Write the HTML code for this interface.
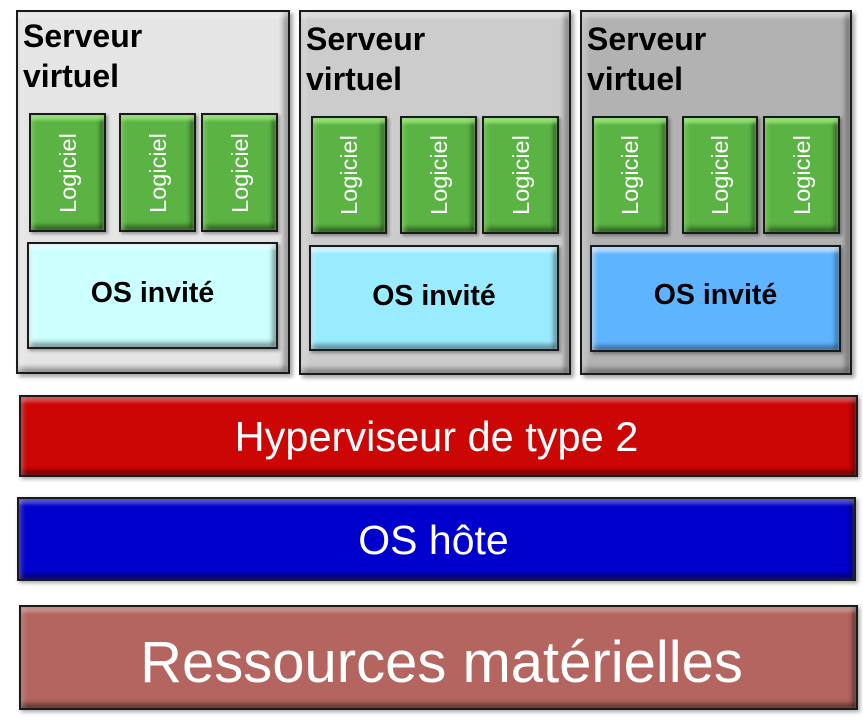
<!DOCTYPE html>
<html><head><meta charset="utf-8"><style>
html,body{margin:0;padding:0;background:#fff;}
body{width:863px;height:721px;position:relative;overflow:hidden;font-family:"Liberation Sans",Arial,sans-serif;}
.b{position:absolute;box-sizing:border-box;border:2px solid #1a1a1a;}
.srv{box-shadow:3px 3px 4px rgba(0,0,0,.35), inset 0 5px 4px rgba(255,255,255,.45), inset 5px 0 4px rgba(255,255,255,.25), inset -5px 0 5px rgba(0,0,0,.3), inset 0 -5px 5px rgba(0,0,0,.3);}
.t{position:absolute;font-weight:bold;font-size:32px;line-height:40px;color:#000;}
.lg{background:#5ab343;box-shadow:2px 2px 3px rgba(0,0,0,.35), inset 0 5px 3px rgba(170,240,140,.75), inset 4px 0 3px rgba(140,220,110,.4), inset -4px 0 4px rgba(0,0,0,.38), inset 0 -5px 4px rgba(0,0,0,.38);}
.lg span{position:absolute;left:50%;top:50%;transform:translate(-50%,-50%) rotate(-90deg);color:#fff;font-size:23.5px;white-space:nowrap;line-height:26px;}
.os{box-shadow:2px 2px 3px rgba(0,0,0,.35), inset 0 5px 3px rgba(255,255,255,.55), inset 4px 0 3px rgba(255,255,255,.3), inset -4px 0 4px rgba(0,0,0,.32), inset 0 -5px 4px rgba(0,0,0,.32);text-align:center;font-weight:bold;font-size:28.5px;color:#000;}
.bar{box-shadow:2px 2px 4px rgba(0,0,0,.35), inset 0 5px 3px rgba(255,255,255,.3), inset 4px 0 3px rgba(255,255,255,.15), inset -4px 0 4px rgba(0,0,0,.38), inset 0 -5px 4px rgba(0,0,0,.38);text-align:center;color:#fff;}
</style></head><body>

<!-- Server 1 -->
<div class="b srv" style="left:16px;top:10px;width:274px;height:364px;background:#e5e5e5;"></div>
<div class="t" style="left:23px;top:16px;">Serveur<br>virtuel</div>
<div class="b lg" style="left:29px;top:113px;width:77px;height:119px;"><span>Logiciel</span></div>
<div class="b lg" style="left:119px;top:113px;width:77px;height:119px;"><span>Logiciel</span></div>
<div class="b lg" style="left:201px;top:113px;width:77px;height:119px;"><span>Logiciel</span></div>
<div class="b os" style="left:27px;top:242px;width:251px;height:107px;background:#ccffff;line-height:99px;">OS invité</div>

<!-- Server 2 -->
<div class="b srv" style="left:299px;top:10px;width:272px;height:365px;background:#cccccc;"></div>
<div class="t" style="left:306px;top:19px;">Serveur<br>virtuel</div>
<div class="b lg" style="left:311px;top:116px;width:76px;height:118px;"><span>Logiciel</span></div>
<div class="b lg" style="left:400px;top:116px;width:77px;height:118px;"><span>Logiciel</span></div>
<div class="b lg" style="left:482px;top:116px;width:77px;height:118px;"><span>Logiciel</span></div>
<div class="b os" style="left:309px;top:245px;width:250px;height:106px;background:#99ecff;line-height:98px;">OS invité</div>

<!-- Server 3 -->
<div class="b srv" style="left:580px;top:10px;width:272px;height:365px;background:#b2b2b2;"></div>
<div class="t" style="left:587px;top:19px;">Serveur<br>virtuel</div>
<div class="b lg" style="left:592px;top:116px;width:76px;height:118px;"><span>Logiciel</span></div>
<div class="b lg" style="left:682px;top:116px;width:76px;height:118px;"><span>Logiciel</span></div>
<div class="b lg" style="left:763px;top:116px;width:77px;height:118px;"><span>Logiciel</span></div>
<div class="b os" style="left:590px;top:245px;width:251px;height:107px;background:#5fb4ff;line-height:97px;">OS invité</div>

<!-- Bars -->
<div class="b bar" style="left:19px;top:395px;width:839px;height:82px;background:#cc0505;font-size:41.5px;line-height:80px;padding-right:4px;">Hyperviseur de type 2</div>
<div class="b bar" style="left:17px;top:497px;width:839px;height:84px;background:#0000cc;font-size:41px;line-height:82px;padding-right:6px;">OS hôte</div>
<div class="b bar" style="left:19px;top:605px;width:839px;height:105px;background:#b5655f;font-size:58px;line-height:103px;padding-top:4px;padding-left:6px;">Ressources matérielles</div>

</body></html>
